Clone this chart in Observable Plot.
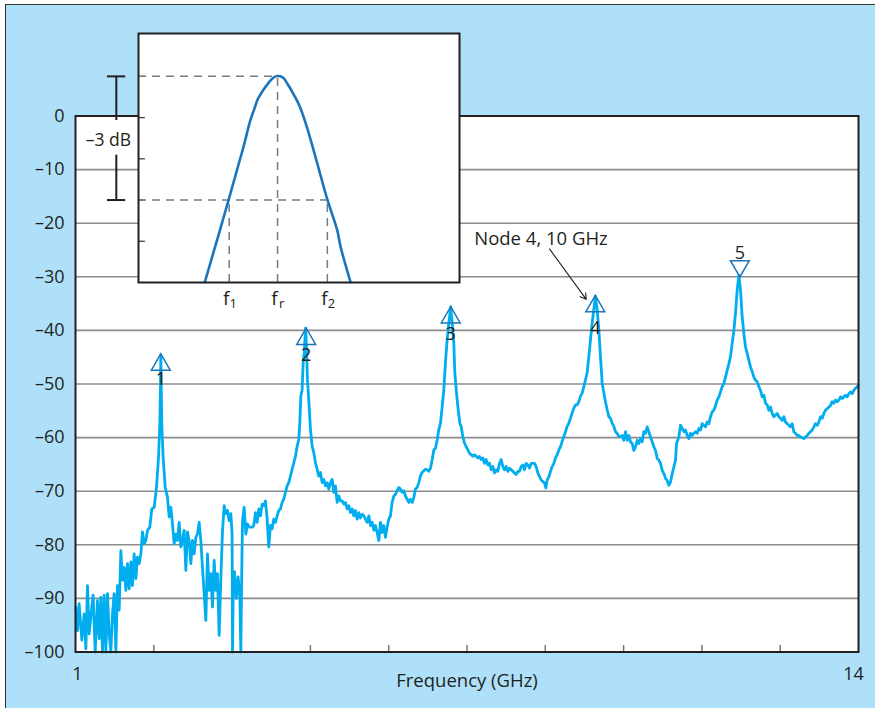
<!DOCTYPE html>
<html>
<head>
<meta charset="utf-8">
<script src="https://cdn.jsdelivr.net/npm/d3@7"></script>
<script src="https://cdn.jsdelivr.net/npm/@observablehq/plot@0.6"></script>
<style>
  html, body { margin: 0; padding: 0; background: #fff; }
  #wrap { position: relative; width: 875px; height: 708px; overflow: hidden; background: #fff; font-family: "Open Sans", sans-serif; }
  #bg { position: absolute; left: 5px; top: 4px; width: 900px; height: 720px; background: #aee1f9; border-left: 1.5px solid #333; border-top: 1.5px solid #333; }
  #main { position: absolute; left: 0; top: 0; }
  #inset { position: absolute; left: 60px; top: 20px; }
</style>
</head>
<body>
<div id="wrap">
  <div id="bg"></div>
  <div id="main"></div>
  <div id="inset"></div>
</div>
<script>
// ---------- data ----------
const yTicks = [0, -10, -20, -30, -40, -50, -60, -70, -80, -90, -100];
const gridLevels = [-10, -20, -30, -40, -50, -60, -70, -80, -90];
const xTickMarks = [2.3, 3.6, 4.9, 6.2, 7.5, 8.8, 10.1, 11.4, 12.7];
const xTickLabels = ["1", "14"];
const xTickLabelValues = [1, 14];

// measured spectrum: [frequency GHz, level dB]
const spectrum = [
[1.006,-91.6],[1.033,-96.0],[1.061,-91.0],[1.105,-97.8],[1.144,-92.9],[1.172,-99.4],[1.199,-87.6],[1.227,-96.6],[1.271,-91.6],[1.293,-89.4],[1.327,-100],[1.365,-90.4],[1.393,-97.5],[1.421,-89.8],[1.448,-100],[1.476,-89.4],[1.504,-100],[1.531,-89.1],[1.559,-96.6],[1.587,-100],[1.614,-92.9],[1.642,-89.1],[1.670,-100],[1.697,-87.6],[1.725,-92.2],[1.753,-81.1],[1.780,-86.6],[1.808,-84.2],[1.836,-88.5],[1.863,-83.5],[1.891,-88.2],[1.919,-83.2],[1.946,-87.6],[1.974,-81.7],[2.002,-86.3],[2.029,-82.3],[2.057,-83.5],[2.085,-81.7],[2.112,-77.6],[2.140,-79.8],[2.168,-79.2],[2.195,-77.3],[2.234,-76.7],[2.267,-73.3],[2.306,-73.0],[2.345,-69.3],[2.378,-63.7],[2.400,-57.5],[2.411,-50.0],[2.417,-44.6],[2.423,-50.0],[2.433,-57.5],[2.455,-63.7],[2.489,-69.3],[2.527,-71.1],[2.555,-74.8],[2.583,-73.0],[2.610,-76.1],[2.638,-79.8],[2.666,-78.0],[2.693,-79.2],[2.721,-75.8],[2.749,-80.4],[2.776,-79.2],[2.804,-77.3],[2.832,-84.8],[2.859,-77.6],[2.887,-79.2],[2.915,-83.5],[2.942,-79.2],[2.970,-81.7],[2.998,-78.6],[3.025,-78.0],[3.053,-75.8],[3.081,-79.2],[3.108,-84.2],[3.136,-89.1],[3.164,-94.1],[3.191,-81.7],[3.219,-88.5],[3.247,-85.4],[3.274,-91.6],[3.302,-82.9],[3.330,-88.5],[3.357,-85.4],[3.385,-96.9],[3.413,-86.3],[3.440,-77.6],[3.468,-72.7],[3.496,-74.2],[3.524,-73.6],[3.551,-75.5],[3.579,-74.2],[3.600,-78.0],[3.607,-100],[3.620,-87.0],[3.640,-85.0],[3.670,-90.0],[3.700,-86.0],[3.730,-90.0],[3.745,-100],[3.760,-85.0],[3.773,-75.5],[3.800,-73.0],[3.828,-78.0],[3.856,-76.1],[3.883,-76.7],[3.939,-76.7],
[3.960,-76.4],[3.988,-74.0],[4.016,-75.8],[4.043,-73.3],[4.071,-74.6],[4.099,-72.4],[4.126,-72.7],[4.154,-71.8],[4.182,-75.2],[4.209,-80.4],[4.237,-76.4],[4.265,-77.0],[4.292,-75.2],[4.320,-75.8],[4.348,-74.6],[4.375,-73.6],[4.403,-73.3],[4.431,-72.1],[4.458,-71.5],[4.486,-70.2],[4.514,-69.0],[4.541,-68.4],[4.569,-67.2],[4.597,-65.9],[4.624,-64.7],[4.652,-63.5],[4.680,-61.6],[4.707,-60.4],[4.724,-57.3],[4.741,-52.3],[4.763,-51.1],[4.779,-46.2],[4.796,-44.3],[4.811,-41.5],[4.820,-39.6],[4.829,-41.5],[4.840,-45.0],[4.851,-49.3],[4.873,-53.0],[4.901,-58.5],[4.929,-61.6],[4.956,-62.8],[4.984,-64.7],[5.012,-65.9],[5.039,-67.2],[5.067,-66.5],[5.095,-68.4],[5.122,-67.8],[5.150,-69.0],[5.178,-68.4],[5.205,-69.6],[5.233,-68.4],[5.261,-67.8],[5.288,-70.2],[5.316,-69.0],[5.344,-72.1],[5.372,-70.9],[5.399,-71.8],[5.427,-71.8],[5.455,-72.4],[5.482,-72.1],[5.510,-73.3],[5.538,-72.7],[5.565,-74.0],[5.593,-73.3],[5.621,-74.6],[5.648,-73.6],[5.676,-75.2],[5.704,-74.0],[5.731,-75.0],[5.759,-74.3],[5.787,-74.6],[5.814,-75.2],[5.842,-75.8],[5.870,-74.6],[5.897,-76.4],[5.925,-75.8],[5.953,-77.3],[5.980,-76.4],[6.008,-77.7],[6.036,-79.2],[6.063,-75.8],[6.091,-77.7],[6.119,-76.4],[6.146,-78.6],[6.174,-76.7],[6.202,-75.2],[6.229,-74.6],[6.257,-72.1],[6.285,-70.9],[6.312,-70.6],[6.340,-69.9],[6.368,-69.3],[6.395,-69.6],[6.423,-70.2],[6.451,-69.9],[6.478,-70.9],[6.506,-71.5],[6.534,-72.1],[6.561,-71.5],[6.589,-72.1],[6.617,-71.2],[6.644,-69.6],[6.672,-69.3],[6.700,-68.4],[6.727,-67.2],[6.755,-66.5],[6.783,-66.2],[6.810,-65.9],
[6.839,-66.0],[6.866,-66.3],[6.894,-65.7],[6.922,-64.1],[6.949,-62.3],[6.977,-62.0],[7.005,-60.4],[7.032,-58.5],[7.060,-57.3],[7.088,-54.2],[7.115,-51.1],[7.132,-47.9],[7.149,-44.9],[7.171,-41.7],[7.198,-38.6],[7.215,-37.0],[7.228,-35.6],[7.240,-37.0],[7.254,-38.6],[7.281,-42.4],[7.298,-47.9],[7.326,-51.7],[7.348,-54.2],[7.381,-57.3],[7.403,-57.9],[7.431,-59.8],[7.458,-61.0],[7.486,-61.7],[7.514,-62.3],[7.541,-62.9],[7.569,-63.2],[7.597,-63.5],[7.624,-63.2],[7.652,-63.5],[7.680,-63.8],[7.707,-63.5],[7.735,-64.1],[7.763,-63.8],[7.790,-64.8],[7.818,-64.1],[7.846,-65.1],[7.874,-64.8],[7.901,-66.0],[7.929,-65.4],[7.957,-66.6],[7.984,-66.0],[8.012,-66.3],[8.040,-64.8],[8.067,-64.1],[8.095,-65.4],[8.123,-66.0],[8.150,-65.4],[8.178,-66.3],[8.206,-65.7],[8.233,-66.0],[8.261,-66.3],[8.289,-66.6],[8.316,-66.9],[8.344,-66.3],[8.372,-66.3],[8.399,-65.4],[8.427,-65.1],[8.455,-66.0],[8.482,-64.8],[8.510,-65.1],[8.538,-65.7],[8.565,-64.8],[8.593,-64.8],[8.621,-64.8],[8.648,-65.4],[8.676,-66.6],[8.704,-67.3],[8.731,-67.9],[8.759,-68.2],[8.787,-68.5],[8.809,-69.4],[8.831,-67.9],[8.859,-67.3],[8.886,-66.3],[8.914,-65.4],[8.942,-64.8],[8.969,-63.8],[8.997,-63.2],[9.025,-62.3],[9.052,-61.7],[9.080,-60.7],[9.108,-59.8],[9.135,-58.9],[9.163,-57.9],[9.191,-57.3],[9.218,-56.4],[9.246,-55.4],[9.274,-54.5],[9.301,-53.9],[9.329,-53.9],[9.357,-53.3],[9.384,-52.3],[9.412,-51.7],[9.440,-50.5],[9.467,-49.2],[9.495,-47.9],[9.523,-44.9],[9.550,-41.7],[9.578,-38.6],[9.606,-36.1],[9.622,-34.5],[9.632,-33.6],[9.642,-34.5],[9.661,-36.1],[9.689,-39.9],[9.716,-44.9],[9.744,-49.8],[9.772,-51.7],[9.799,-53.3],[9.827,-54.8],[9.855,-56.1],[9.882,-56.4],[9.910,-57.3],[9.938,-57.9],[9.965,-58.9],[9.993,-59.2],[10.021,-59.8],[10.048,-59.8],
[10.077,-59.6],[10.104,-60.5],[10.132,-58.9],[10.160,-60.5],[10.187,-59.6],[10.215,-60.8],[10.243,-61.1],[10.270,-62.4],[10.298,-61.7],[10.326,-60.5],[10.353,-61.1],[10.381,-60.2],[10.409,-60.8],[10.436,-58.9],[10.464,-59.2],[10.492,-58.0],[10.519,-58.9],[10.547,-59.9],[10.575,-60.8],[10.602,-61.7],[10.630,-62.4],[10.658,-63.9],[10.685,-64.2],[10.713,-64.8],[10.741,-66.1],[10.768,-66.7],[10.796,-67.6],[10.824,-68.0],[10.851,-68.9],[10.879,-68.3],[10.907,-66.7],[10.934,-65.5],[10.962,-64.2],[10.979,-61.1],[11.017,-59.9],[11.045,-57.7],[11.073,-58.3],[11.100,-58.9],[11.128,-58.6],[11.156,-59.6],[11.183,-60.2],[11.211,-59.2],[11.239,-59.6],[11.266,-59.2],[11.294,-58.9],[11.322,-59.2],[11.350,-58.3],[11.377,-58.6],[11.405,-57.4],[11.433,-57.7],[11.460,-58.0],[11.488,-57.1],[11.516,-57.4],[11.543,-56.1],[11.571,-55.2],[11.599,-54.9],[11.626,-54.0],[11.654,-53.0],[11.682,-52.4],[11.709,-51.5],[11.737,-50.5],[11.765,-49.9],[11.792,-48.7],[11.820,-47.4],[11.848,-46.2],[11.875,-44.9],[11.903,-42.4],[11.931,-40.0],[11.958,-36.8],[11.986,-32.5],[12.014,-29.7],[12.041,-32.5],[12.069,-37.5],[12.097,-40.6],[12.124,-43.1],[12.152,-44.3],[12.180,-45.6],[12.207,-46.8],[12.235,-47.7],[12.263,-48.7],[12.290,-49.3],[12.318,-49.6],[12.346,-50.5],[12.373,-51.2],[12.401,-52.4],[12.429,-52.1],[12.456,-53.6],[12.484,-53.9],[12.512,-54.9],[12.539,-54.3],[12.567,-55.5],[12.595,-56.1],[12.622,-55.8],[12.650,-55.5],[12.678,-56.1],[12.705,-56.4],[12.733,-56.8],[12.761,-56.1],[12.788,-57.1],[12.816,-57.4],[12.844,-57.7],[12.871,-58.0],[12.899,-57.4],[12.927,-58.9],[12.954,-59.2],[12.982,-59.6],[13.010,-59.6],[13.037,-59.9],[13.065,-60.0],[13.093,-60.2],[13.120,-59.9],[13.148,-59.6],[13.176,-59.2],[13.203,-58.9],[13.231,-58.6],[13.259,-58.0],[13.286,-57.4],[13.314,-57.7],[13.342,-57.1],[13.369,-56.1],[13.397,-56.4],[13.425,-55.5],[13.452,-54.9],[13.480,-54.6],[13.508,-54.3],[13.535,-54.0],[13.563,-53.3],[13.591,-53.6],[13.618,-53.0],[13.646,-53.3],[13.674,-53.0],[13.701,-52.4],[13.729,-52.7],[13.757,-52.4],[13.784,-52.1],[13.812,-52.4],[13.840,-51.8],[13.867,-51.5],[13.895,-51.8],[13.923,-51.2],[13.950,-50.8],[13.978,-50.5],[14.0,-50.2]
];

// resonance nodes
const nodeNames  = ["1", "2", "3", "4", "5"];
const nodeFreq   = [2.416, 4.83, 7.23, 9.63, 12.03];
const markerDb   = [-46.4, -41.6, -37.6, -35.5, -28.0];
const labelDb    = [-49.2, -44.7, -40.8, -39.6, -25.6];
const markerUp   = [true, true, true, true, false];

// annotation
const noteText = "Node 4, 10 GHz";
const notePos = {x: 7.62, y: -22.9};
const noteArrow = {x1: 8.87, y1: -24.8, x2: 9.48, y2: -34.2};

// inset (resonance detail): relative frequency, relative level dB
const insetCurve = [[-1.475,-4.99],[-0.988,-2.98],[-0.70,-1.75],[-0.548,-1.05],[-0.48,-0.82],[-0.40,-0.55],[-0.30,-0.35],[-0.21,-0.2],[-0.12,-0.07],[-0.04,0],[0.06,0],[0.128,-0.05],[0.20,-0.18],[0.30,-0.38],[0.40,-0.6],[0.467,-0.78],[0.60,-1.25],[0.805,-2.11],[1.008,-2.98],[1.21,-3.73],[1.278,-4.13],[1.48,-4.99]];
const insetTicks = [0, -1, -2, -3, -4];
const fNames = ["1", "r", "2"];
const fValues = [-0.98, 0, 1.01];
const halfPowerDb = -3;
const bracketLabel = "\u20133 dB";

// ---------- main chart ----------
const nodes = nodeNames.map((n, i) => ({n, f: nodeFreq[i], m: markerDb[i], l: labelDb[i], up: markerUp[i]}));
const fmtY = d => d === 0 ? "0" : "\u2013" + Math.abs(d);
const dark = "#231f20";
const font = "'Open Sans', sans-serif";

const main = Plot.plot({
  width: 875, height: 708,
  marginLeft: 75, marginRight: 17, marginTop: 115.5, marginBottom: 56.5,
  x: {domain: [1, 14], axis: null},
  y: {domain: [-100, 0], axis: null},
  style: {background: "transparent", fontFamily: font, color: dark, overflow: "visible"},
  marks: [
    Plot.frame({fill: "white", stroke: "none"}),
    Plot.ruleY(gridLevels, {stroke: "#8c8c8c", strokeWidth: 1.6}),
    Plot.ruleX(xTickMarks, {y1: -100, y2: -98.8, stroke: "#777", strokeWidth: 1.5}),
    Plot.line(spectrum, {x: d => d[0], y: d => d[1], stroke: "#00aeef", strokeWidth: 2.8, strokeLinejoin: "round"}),
    Plot.frame({stroke: dark, strokeWidth: 2}),
    Plot.dot(nodes.filter(d => d.up), {x: "f", y: "m", symbol: "triangle", r: 7, stroke: "#1b75bc", strokeWidth: 1.5, fill: "none"}),
    Plot.dot(nodes.filter(d => !d.up), {x: "f", y: "m", symbol: "triangle", r: 7, rotate: 180, stroke: "#1b75bc", strokeWidth: 1.5, fill: "none"}),
    Plot.text(nodes, {x: "f", y: "l", text: "n", fontSize: 18, fill: dark, lineAnchor: "middle"}),
    Plot.text([notePos], {x: "x", y: "y", text: () => noteText, textAnchor: "start", fontSize: 18.5, fill: dark, lineAnchor: "middle"}),
    Plot.arrow([noteArrow], {x1: "x1", y1: "y1", x2: "x2", y2: "y2", stroke: dark, strokeWidth: 1.1, headLength: 9, bend: 0}),
    Plot.text(yTicks, {x: 1, y: d => d, text: fmtY, textAnchor: "end", dx: -11, fontSize: 18, fill: dark, lineAnchor: "middle"}),
    Plot.text([xTickLabelValues[0]], {x: d => d, y: -100, text: () => xTickLabels[0], dy: 22, dx: 2, fontSize: 18, fill: dark, lineAnchor: "middle"}),
    Plot.text([xTickLabelValues[1]], {x: d => d, y: -100, text: () => xTickLabels[1], dy: 22, dx: -5, fontSize: 18, fill: dark, lineAnchor: "middle"}),
    Plot.text(["Frequency (GHz)"], {frameAnchor: "bottom", text: d => d, dy: 29, fontSize: 18.5, fill: dark, lineAnchor: "middle"})
  ]
});
document.getElementById("main").appendChild(main);

// ---------- inset ----------
const xL = -2.82;
const inset = Plot.plot({
  width: 420, height: 300,
  marginLeft: 78, marginRight: 21, marginTop: 13, marginBottom: 38,
  x: {domain: [xL, 3.69], axis: null},
  y: {domain: [-5, 1.04], axis: null},
  style: {background: "transparent", fontFamily: font, color: dark, overflow: "visible"},
  marks: [
    Plot.frame({fill: "white", stroke: "none"}),
    Plot.ruleY(insetTicks, {x1: xL, x2: xL + 0.14, stroke: "#444", strokeWidth: 1.3}),
    Plot.ruleY([{y: 0, x2: 0}, {y: halfPowerDb, x2: fValues[2]}], {y: "y", x1: xL, x2: "x2", stroke: "#7a7a7a", strokeWidth: 1.5, strokeDasharray: "8,6"}),
    Plot.ruleX([{x: fValues[0], y2: halfPowerDb}, {x: fValues[1], y2: 0}, {x: fValues[2], y2: halfPowerDb}], {x: "x", y1: -5, y2: "y2", stroke: "#7a7a7a", strokeWidth: 1.5, strokeDasharray: "8,6"}),
    Plot.line(insetCurve, {x: d => d[0], y: d => d[1], stroke: "#1a75bc", strokeWidth: 2.6, curve: "catmull-rom"}),
    Plot.frame({stroke: dark, strokeWidth: 2}),
    // -3 dB bracket
    Plot.ruleX([{y1: 0, y2: -1.07}, {y1: -1.91, y2: halfPowerDb}], {x: -3.27, y1: "y1", y2: "y2", stroke: dark, strokeWidth: 2}),
    Plot.ruleY([0, halfPowerDb], {x1: -3.45, x2: -3.08, stroke: dark, strokeWidth: 2}),
    Plot.text([bracketLabel], {x: -3.43, y: -1.55, text: d => d, fontSize: 17.5, fill: dark, lineAnchor: "middle"}),
    // f labels
    Plot.text(fValues, {x: d => d, y: -5, text: () => "f", dy: 16, dx: -3, fontSize: 19, fill: dark, lineAnchor: "middle"}),
    Plot.text(fValues, {x: d => d, y: -5, text: (d, i) => fNames[i], dy: 21, dx: 4, fontSize: 13, fill: dark, lineAnchor: "middle"})
  ]
});
document.getElementById("inset").appendChild(inset);
</script>
</body>
</html>
